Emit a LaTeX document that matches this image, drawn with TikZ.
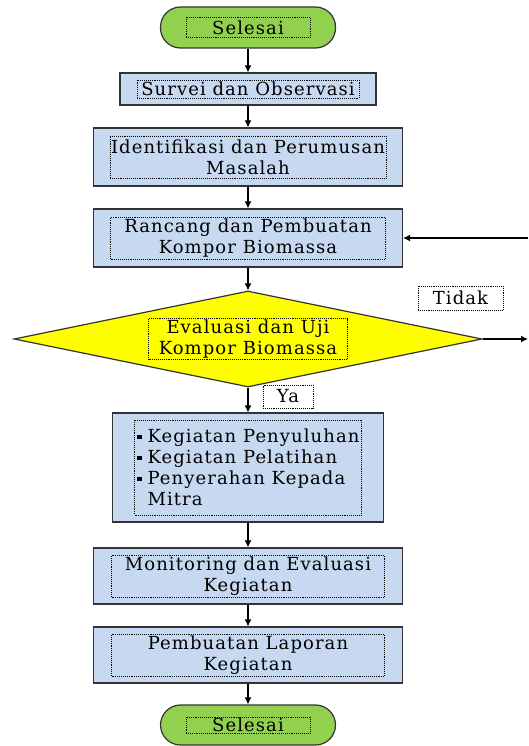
\documentclass[tikz,border=0pt]{standalone}
\usepackage{fontspec}
\newfontfamily\flowfam{DejaVu Serif}[LetterSpace=6]
\usetikzlibrary{shapes.geometric,positioning,arrows.meta}
\definecolor{boxblue}{HTML}{C6D9F1}
\definecolor{termgreen}{HTML}{92D050}
\definecolor{ujiyellow}{HTML}{FFFF00}
\newcommand\flowfont{\flowfam\fontsize{18pt}{21pt}\selectfont}
\newcommand\sqbul{\rule[0.22em]{5pt}{4pt}\hspace{6pt}}
\tikzset{
	flow/.style={line width=1.2pt, -{Latex[length=7pt,width=7pt]}},
	term/.style={draw=black!80, line width=1.2pt, fill=termgreen, rounded corners=20pt, minimum width=175pt, minimum height=41pt, inner sep=0pt},
	proc/.style={draw=black!80, line width=1.2pt, fill=boxblue, minimum width=309pt, minimum height=58pt, inner sep=0pt},
	cond/.style={diamond, draw=black!80, line width=1.2pt, fill=ujiyellow, minimum width=468pt, minimum height=96pt, inner sep=0pt},
	txt/.style={draw=black, densely dotted, line width=0.9pt, inner sep=1pt, align=center, font=\flowfont}
}
\begin{document}
\begin{tikzpicture}[x=1pt,y=1pt]
	\useasboundingbox (0,0) rectangle (528,-746);
	\node[term] (mulai) at (248,-27.5) {};
	\node[proc, minimum width=256pt, minimum height=32pt, node distance=61.5pt, below of = mulai] (survei) {};
	\node[proc, node distance=68pt, below of = survei] (ident) {};
	\node[proc, node distance=81pt, below of = ident] (rancang) {};
	\node[cond, node distance=101pt, below of = rancang] (uji) {};
	\node[proc, minimum width=271pt, minimum height=109pt, node distance=128.5pt, below of = uji] (keg) {};
	\node[proc, minimum height=56pt, node distance=108.5pt, below of = keg] (monev) {};
	\node[proc, minimum height=56pt, node distance=79pt, below of = monev] (lapor) {};
	\node[term, minimum height=40pt, node distance=70pt, below of = lapor] (selesai) {};

	\node[txt, minimum width=124pt, minimum height=20pt] (mulai-t) at (mulai) {Selesai};
	\node[txt, minimum width=222pt, minimum height=18pt] (survei-t) at (survei) {Survei dan Observasi};
	\node[txt, minimum width=275pt, minimum height=42pt] (ident-t) at (ident) {Identifikasi dan Perumusan\\Masalah};
	\node[txt, minimum width=275pt, minimum height=42pt] (rancang-t) at (rancang) {Rancang dan Pembuatan\\Kompor Biomassa};
	\node[txt, minimum width=199pt, minimum height=37pt] (uji-t) at (uji) {Evaluasi dan Uji\\Kompor Biomassa};
	\node[txt, align=left, minimum width=227pt, minimum height=95pt] (keg-t) at (keg) {\sqbul Kegiatan Penyuluhan\\\sqbul Kegiatan Pelatihan\\\sqbul Penyerahan Kepada\\\phantom{\sqbul}Mitra};
	\node[txt, minimum width=273pt, minimum height=42pt] (monev-t) at (monev) {Monitoring dan Evaluasi\\Kegiatan};
	\node[txt, minimum width=273pt, minimum height=42pt] (lapor-t) at (lapor) {Pembuatan Laporan\\Kegiatan};
	\node[txt, minimum width=124pt, minimum height=16pt] (selesai-t) at (selesai) {Selesai};

	\node[txt, minimum width=85pt, minimum height=24pt] (tidak) at (460.5,-298) {Tidak};
	\node[txt, minimum width=50pt, minimum height=23pt] (ya) at (288,-396.5) {Ya};

	\coordinate (kanan1) at (528,-339);
	\coordinate (kanan2) at (528,-238);

	\draw[flow] (mulai) -- (survei);
	\draw[flow] (survei) -- (ident);
	\draw[flow] (ident) -- (rancang);
	\draw[flow] (rancang) -- (uji);
	\draw[flow] (uji) -- (keg);
	\draw[flow] (keg) -- (monev);
	\draw[flow] (monev) -- (lapor);
	\draw[flow] (lapor) -- (selesai);
	\draw[flow] (uji.east) -- (kanan1);
	\draw[flow] (kanan2) -- (rancang.east);
\end{tikzpicture}
\end{document}
